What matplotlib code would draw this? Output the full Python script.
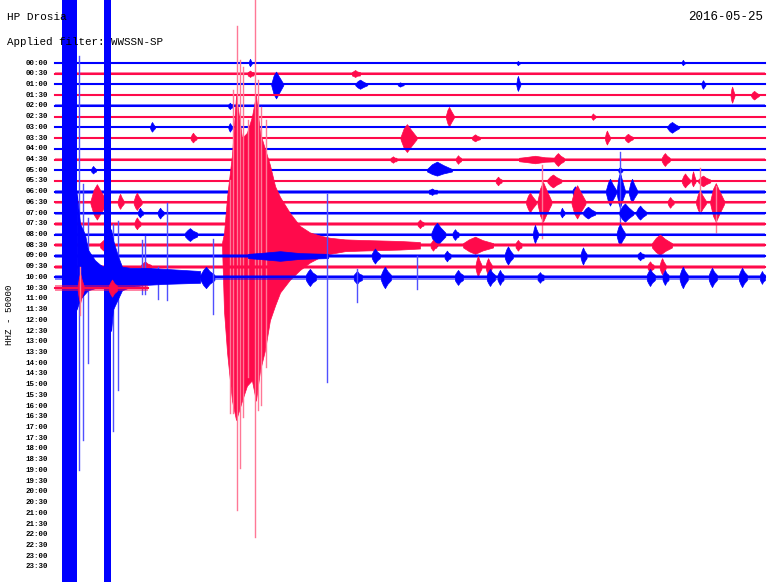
import matplotlib
matplotlib.use("Agg")
import matplotlib.pyplot as plt
import numpy as np

# ---- data (time in minutes from row start, amplitude in row spacings) ----
row_labels = [f"{h:02d}:{m:02d}" for h in range(24) for m in (0, 30)]
row_end = [30.0] * 21 + [3.93]          # last row (10:30) is still being recorded
row_noise = [0.05, 0.16, 0.07, 0.07, 0.14, 0.09, 0.07, 0.11, 0.07, 0.16, 0.11,
             0.13, 0.18, 0.14, 0.14, 0.16, 0.18, 0.20, 0.20, 0.18, 0.25, 0.25]

# small bursts: (row, peak time, amp up, amp down, duration)
bursts = [
    (0, 8.24, 0.4, 0.3, 0.13), (0, 19.56, 0.2, 0.2, 0.13), (0, 26.53, 0.3, 0.2, 0.13),
    (1, 12.68, 0.35, 0.3, 0.34), (1, 8.24, 0.3, 0.3, 0.25),
    (2, 9.34, 1.2, 1.3, 0.51), (2, 12.89, 0.45, 0.4, 0.51), (2, 14.58, 0.2, 0.2, 0.25),
    (2, 19.56, 0.8, 0.6, 0.17), (2, 27.38, 0.4, 0.4, 0.17),
    (3, 28.61, 0.8, 0.7, 0.17), (3, 29.54, 0.4, 0.4, 0.34),
    (4, 7.39, 0.3, 0.3, 0.17),
    (5, 16.65, 0.9, 0.9, 0.34), (5, 22.73, 0.3, 0.3, 0.17),
    (6, 4.10, 0.5, 0.4, 0.21), (6, 7.39, 0.4, 0.4, 0.17), (6, 26.07, 0.5, 0.5, 0.51),
    (7, 5.83, 0.5, 0.4, 0.25), (7, 14.87, 1.3, 1.3, 0.68), (7, 17.75, 0.35, 0.3, 0.34),
    (7, 23.32, 0.7, 0.6, 0.21), (7, 24.21, 0.4, 0.4, 0.34),
    (9, 14.28, 0.3, 0.3, 0.25), (9, 17.03, 0.4, 0.4, 0.21), (9, 20.28, 0.35, 0.35, 1.69),
    (9, 21.25, 0.6, 0.6, 0.42), (9, 25.77, 0.6, 0.6, 0.34),
    (10, 1.61, 0.4, 0.3, 0.21), (10, 16.14, 0.8, 0.5, 1.06), (10, 23.87, 0.3, 0.3, 0.17),
    (11, 18.72, 0.4, 0.4, 0.25), (11, 21.04, 0.6, 0.6, 0.59), (11, 26.62, 0.7, 0.6, 0.34),
    (11, 26.96, 0.9, 0.5, 0.17), (11, 27.38, 0.5, 0.5, 0.51),
    (12, 15.93, 0.3, 0.3, 0.34), (12, 21.97, 0.5, 0.5, 0.25), (12, 23.45, 1.2, 1.3, 0.42),
    (12, 23.87, 1.8, 1.5, 0.34), (12, 24.38, 1.2, 1.0, 0.34),
    (13, 1.77, 1.7, 1.6, 0.68), (13, 2.75, 0.8, 0.6, 0.25), (13, 3.46, 0.9, 0.7, 0.34),
    (13, 20.07, 0.9, 0.9, 0.42), (13, 20.62, 1.9, 1.8, 0.59), (13, 22.06, 1.6, 1.5, 0.59),
    (13, 25.99, 0.5, 0.5, 0.25), (13, 27.25, 1.1, 1.0, 0.42), (13, 27.92, 1.8, 1.8, 0.59),
    (14, 3.59, 0.5, 0.4, 0.21), (14, 4.44, 0.5, 0.5, 0.25), (14, 21.42, 0.5, 0.4, 0.17),
    (14, 22.52, 0.6, 0.5, 0.51), (14, 24.08, 0.9, 0.8, 0.59), (14, 24.72, 0.7, 0.6, 0.42),
    (15, 3.46, 0.6, 0.5, 0.25), (15, 15.42, 0.4, 0.4, 0.25),
    (16, 5.70, 0.6, 0.6, 0.51), (16, 16.14, 1.1, 1.1, 0.59), (16, 16.90, 0.5, 0.5, 0.25),
    (16, 20.28, 0.9, 0.8, 0.21), (16, 23.87, 1.0, 1.0, 0.34),
    (17, 2.11, 0.6, 0.6, 0.51), (17, 15.97, 0.5, 0.5, 0.25), (17, 17.75, 0.8, 0.8, 1.27),
    (17, 19.56, 0.5, 0.5, 0.25), (17, 25.56, 1.0, 0.9, 0.85),
    (18, 9.51, 0.45, 0.45, 3.38), (18, 13.52, 0.7, 0.7, 0.34), (18, 16.56, 0.5, 0.5, 0.25),
    (18, 19.14, 0.9, 0.8, 0.34), (18, 22.31, 0.8, 0.8, 0.25), (18, 24.72, 0.4, 0.4, 0.25),
    (19, 3.80, 0.5, 0.5, 0.42), (19, 17.87, 1.0, 0.9, 0.25), (19, 18.30, 0.8, 0.8, 0.25),
    (19, 25.14, 0.5, 0.5, 0.25), (19, 25.65, 0.8, 0.7, 0.25),
    (20, 6.38, 1.0, 1.0, 0.59), (20, 10.77, 0.8, 0.8, 0.42), (20, 12.76, 0.6, 0.6, 0.34),
    (20, 13.94, 1.0, 1.0, 0.42), (20, 17.03, 0.7, 0.7, 0.34), (20, 18.38, 0.8, 0.8, 0.34),
    (20, 18.80, 0.7, 0.7, 0.25), (20, 20.49, 0.5, 0.5, 0.25), (20, 25.14, 0.8, 0.8, 0.34),
    (20, 25.77, 0.7, 0.7, 0.25), (20, 26.53, 1.0, 1.0, 0.34), (20, 27.76, 0.9, 0.9, 0.34),
    (20, 29.03, 0.9, 0.9, 0.34), (20, 29.87, 0.6, 0.6, 0.21),
    (21, 1.06, 1.4, 1.4, 0.25), (21, 2.41, 0.8, 0.8, 0.34),
]

# single large swings: (row, time, amp up, amp down)
spikes = [
    (12, 23.87, 3.7, 2.8), (13, 20.58, 3.5, 3.3), (13, 27.25, 3.2, 1.0), (13, 27.92, 1.5, 2.8),
    (20, 1.01, 20.7, 18.0), (20, 1.18, 8.7, 15.2), (20, 1.39, 5.5, 8.0), (20, 2.45, 5.0, 14.3),
    (20, 2.66, 5.3, 10.5),
    (20, 3.68, 3.5, 1.5), (20, 3.80, 3.9, 1.5), (20, 4.35, 1.0, 2.0), (20, 4.73, 6.9, 2.1),
    (20, 6.68, 3.6, 3.4), (20, 11.49, 7.8, 9.8), (20, 12.76, 0.8, 2.3), (20, 15.30, 2.0, 1.1),
    (21, 1.06, 2.0, 2.5),
]

# two saturated local events on the 10:00 row (start, end)
big_bands = [(0.28, 0.91), (2.09, 2.37)]
coda_t = [0.91, 1.06, 1.27, 1.39, 1.69, 1.90, 2.07, 2.37, 2.45, 2.66, 2.83, 3.17, 3.80, 4.65, 6.13]
coda_up = [8.0, 5.0, 4.0, 2.6, 1.6, 1.2, 1.0, 4.5, 3.5, 2.0, 1.0, 0.9, 0.9, 0.8, 0.6]
coda_down = [3.0, 2.0, 1.5, 1.2, 1.0, 0.9, 0.9, 5.0, 3.0, 2.0, 1.2, 0.9, 0.7, 0.6, 0.5]

# regional quake on the 08:30 row
quake_t = [7.06, 7.14, 7.27, 7.48, 7.65, 7.90, 8.11, 8.32, 8.49, 8.66, 8.87, 9.08,
           9.30, 9.51, 9.93, 10.35, 10.77, 11.20, 11.62, 12.25, 12.89, 13.73, 14.58, 15.42]
quake_up = [0.3, 1.1, 4.5, 8.5, 14.0, 10.0, 10.5, 12.0, 14.0, 10.5, 9.0, 7.5,
            5.5, 4.5, 3.0, 1.8, 1.2, 0.9, 0.7, 0.55, 0.5, 0.45, 0.4, 0.3]
quake_down = [0.3, 6.1, 10.0, 14.5, 16.3, 14.5, 13.1, 12.6, 14.5, 11.7, 9.8, 7.0,
              5.6, 4.4, 3.2, 2.3, 1.6, 1.1, 0.8, 0.55, 0.5, 0.45, 0.4, 0.3]
quake_row = 17
quake_spikes = [(7.39, 6.1, 15.6), (7.52, 14.5, 15.6), (7.69, 20.5, 24.7), (7.82, 17.3, 20.8),
                (7.94, 16.6, 16.0), (8.15, 11.7, 12.3), (8.45, 22.9, 27.2), (8.58, 15.4, 15.4),
                (8.70, 12.9, 14.9), (8.92, 11.7, 11.4)]

BLUE = "#0000ff"
RED = "#ff0a4b"
LIGHT = {BLUE: "#5050ff", RED: "#ff7896"}
MONO = "Liberation Mono"

fig = plt.figure(figsize=(7.7, 5.82), dpi=100)
ax = fig.add_axes([0, 0, 1, 1])
ax.set_xlim(-2.324, 30.21)
ax.set_ylim(48.41, -5.88)
ax.axis("off")


def color_of(row):
    return BLUE if row % 2 == 0 else RED


for row in range(len(row_end)):
    c = color_of(row)
    z = 2 + row * 0.01
    n = row_noise[row]
    ax.fill_between([0, row_end[row]], row - n, row + n, color=c, alpha=0.5, lw=0, zorder=z)
    ax.plot([0, row_end[row]], [row, row], color=c, lw=1.5, zorder=z)

    for (r, t, up, down, w) in bursts:
        if r != row:
            continue
        # spindle-shaped envelope around the read peak
        ts = [t - 0.4 * w, t - 0.2 * w, t, t + 0.25 * w, t + 0.6 * w]
        top = [row - n, row - 0.7 * up, row - up, row - 0.6 * up, row - n]
        bot = [row + n, row + 0.7 * down, row + down, row + 0.6 * down, row + n]
        ax.fill_between(ts, top, bot, color=c, lw=0.5, zorder=z)

    for (r, t, up, down) in spikes:
        if r == row:
            ax.plot([t, t], [row - up, row + down], color=LIGHT[c], lw=1.0, zorder=z)

    if row == quake_row:
        ax.fill_between(quake_t, row - np.array(quake_up), row + np.array(quake_down),
                        color=c, lw=0.5, zorder=z)
        for (t, up, down) in quake_spikes:
            ax.plot([t, t], [row - up, row + down], color=LIGHT[c], lw=1.0, zorder=z)

    if row == 20:
        ax.fill_between(coda_t, row - np.array(coda_up), row + np.array(coda_down),
                        color=c, lw=0.5, zorder=z)
        for (t0, t1) in big_bands:
            ax.fill_between([t0, t1], row - 60, row + 60, color=c, lw=0, zorder=z)

# hour labels
for i, lab in enumerate(row_labels):
    ax.text(-0.30, i, lab, ha="right", va="center", fontsize=5.4, fontweight="bold",
            family=MONO, color="black", zorder=1)

fig.text(7 / 770, 1 - 17 / 582, "HP Drosia", ha="left", va="center", fontsize=8.0,
         family=MONO, zorder=0)
fig.text(7 / 770, 1 - 42 / 582, "Applied filter: WWSSN-SP", ha="left", va="center",
         fontsize=7.8, family=MONO, zorder=0)
fig.text(763 / 770, 1 - 17 / 582, "2016-05-25", ha="right", va="center", fontsize=9.0,
         family=MONO)
fig.text(10 / 770, 1 - 315 / 582, "HHZ - 50000", ha="center", va="center", rotation=90,
         fontsize=6.6, family=MONO)

fig.savefig("out.png", dpi=100, facecolor="white")
